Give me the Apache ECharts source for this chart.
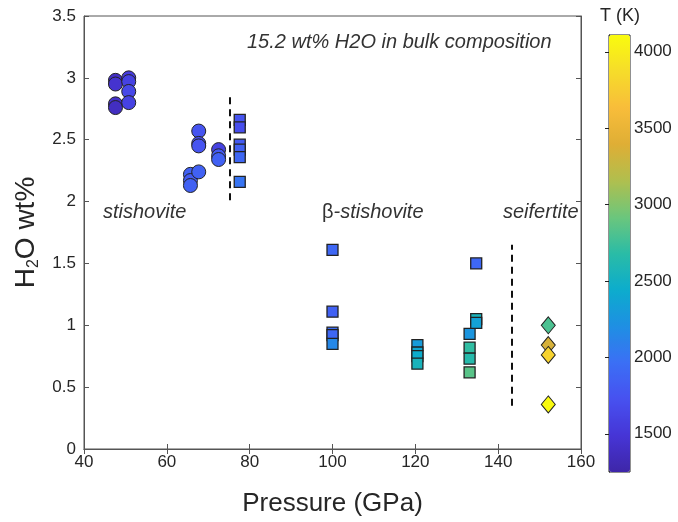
<!DOCTYPE html>
<html>
<head>
<meta charset="utf-8">
<script src="https://cdn.jsdelivr.net/npm/echarts@6/dist/echarts.min.js"></script>
<style>
  html, body { margin: 0; padding: 0; background: #fff; }
  #chart { width: 678px; height: 522px; }
</style>
</head>
<body>
<div id="chart"></div>
<script>
// stishovite (circles): pressure GPa, H2O wt%, T K
const stishP = [47.6, 47.6, 47.6, 47.6, 50.8, 50.8, 50.8, 50.8, 65.7, 65.7, 65.7, 67.7, 67.7, 67.7, 67.7, 72.5, 72.5, 72.5]
const stishH2O = [2.98, 2.95, 2.79, 2.76, 3.00, 2.97, 2.89, 2.80, 2.22, 2.17, 2.13, 2.24, 2.57, 2.47, 2.45, 2.42, 2.37, 2.34]
const stishT = [1400, 1450, 1420, 1380, 1550, 1600, 1650, 1600, 1850, 1800, 1850, 1850, 1750, 1700, 1750, 1600, 1800, 1850]

// beta-stishovite (squares)
const betaP = [77.6, 77.6, 77.6, 77.6, 77.6, 77.6, 100.0, 100.0, 100.0, 100.0, 100.0, 120.5, 120.5, 120.5, 120.5, 133.1, 133.1, 133.1, 133.1, 134.7, 134.7, 134.7]
const betaH2O = [2.66, 2.60, 2.46, 2.42, 2.36, 2.16, 1.61, 1.11, 0.94, 0.92, 0.85, 0.84, 0.78, 0.75, 0.69, 0.93, 0.82, 0.73, 0.62, 1.50, 1.05, 1.02]
const betaT = [1750, 1700, 1800, 1850, 1900, 2000, 1900, 1850, 1950, 1900, 2150, 2300, 2400, 2450, 2550, 2250, 2700, 2650, 2850, 1900, 2550, 2350]

// seifertite (diamonds)
const seifP = [152.1, 152.1, 152.1, 152.1]
const seifH2O = [1.00, 0.84, 0.76, 0.36]
const seifT = [2800, 3350, 3800, 4100]

// phase boundary dashes
const boundary1 = [[75.3, 2.01], [75.3, 2.87]]
const boundary2 = [[143.4, 0.35], [143.4, 1.65]]

const xTicks = { min: 40, max: 160, interval: 20 }
const yTicks = { min: 0, max: 3.5, interval: 0.5 }
const tRange = [1250, 4110]
const tTicks = [1500, 2000, 2500, 3000, 3500, 4000]

const parula = ['#3e26a8', '#4635d6', '#4751f0', '#3b6ff5', '#1f8fe3', '#0caccd', '#2abca6', '#6cc67c', '#b0bf4e', '#dfae35', '#f8bd3a', '#f6dc2a', '#f9fb0e']

const font = 'Liberation Sans, Arial, Helvetica, sans-serif'
const axisColor = '#555'
const textColor = '#262626'

function zip(p, h, t) {
  return p.map((v, i) => [v, h[i], t[i]])
}

const chart = echarts.init(document.getElementById('chart'))

chart.setOption({
  animation: false,
  textStyle: { fontFamily: font },
  grid: [
    { left: 84, right: 97, top: 16, bottom: 71, show: true, borderColor: axisColor, borderWidth: 1 },
    { left: 609, width: 21, top: 35, height: 437, show: true, borderColor: '#222', borderWidth: 1 }
  ],
  xAxis: [
    {
      gridIndex: 0, type: 'value', ...xTicks,
      name: 'Pressure (GPa)', nameLocation: 'middle', nameGap: 42,
      nameTextStyle: { fontSize: 26, color: textColor, fontFamily: font },
      axisLine: { lineStyle: { color: axisColor } },
      axisTick: { inside: true, length: 5, lineStyle: { color: axisColor } },
      axisLabel: { fontSize: 17, color: textColor, margin: 5, fontFamily: font },
      splitLine: { show: false }
    },
    {
      gridIndex: 0, type: 'value', position: 'top', ...xTicks,
      axisLine: { lineStyle: { color: axisColor } },
      axisTick: { inside: true, length: 5, lineStyle: { color: axisColor } },
      axisLabel: { show: false },
      splitLine: { show: false }
    },
    { gridIndex: 1, type: 'value', min: 0, max: 1, show: false }
  ],
  yAxis: [
    {
      gridIndex: 0, type: 'value', ...yTicks,
      name: '{a|H}{s|2}{a|O wt%}', nameLocation: 'middle', nameGap: 42, nameRotate: 90,
      nameTextStyle: {
        rich: {
          a: { fontSize: 28, color: textColor, fontFamily: font },
          s: { fontSize: 16, color: textColor, fontFamily: font, verticalAlign: 'bottom', padding: [14, 0, 0, 0] }
        }
      },
      axisLine: { lineStyle: { color: axisColor } },
      axisTick: { inside: true, length: 5, lineStyle: { color: axisColor } },
      axisLabel: { fontSize: 17, color: textColor, margin: 8, fontFamily: font },
      splitLine: { show: false }
    },
    {
      gridIndex: 0, type: 'value', position: 'right', ...yTicks,
      axisLine: { lineStyle: { color: axisColor } },
      axisTick: { inside: true, length: 5, lineStyle: { color: axisColor } },
      axisLabel: { show: false },
      splitLine: { show: false }
    },
    {
      gridIndex: 1, type: 'value', position: 'right', min: tRange[0], max: tRange[1],
      axisLine: { show: true, lineStyle: { color: '#222' } },
      axisTick: { show: true, inside: true, length: 4, customValues: tTicks, lineStyle: { color: '#222' } },
      axisLabel: { fontSize: 17, color: textColor, margin: 4, customValues: tTicks, fontFamily: font, formatter: v => String(v) },
      splitLine: { show: false }
    }
  ],
  visualMap: {
    type: 'continuous',
    min: tRange[0], max: tRange[1],
    dimension: 2,
    seriesIndex: [0, 1, 2],
    left: 609, top: 35,
    itemWidth: 21, itemHeight: 437,
    padding: 0,
    calculable: false,
    hoverLink: false,
    inRange: { color: parula }
  },
  graphic: [
    {
      type: 'text', left: 600, top: 7,
      style: { text: 'T (K)', font: '18px ' + font, fill: textColor }
    },
    {
      type: 'text', left: 247, top: 32,
      style: { text: '15.2 wt% H2O in bulk composition', font: 'italic 20px ' + font, fill: '#333' }
    },
    {
      type: 'text', left: 103, top: 202,
      style: { text: 'stishovite', font: 'italic 20px ' + font, fill: '#333' }
    },
    {
      type: 'text', left: 322, top: 202,
      style: {
        text: '{n|β}{i|-stishovite}',
        rich: {
          n: { font: '20px ' + font, fill: '#333' },
          i: { font: 'italic 20px ' + font, fill: '#333' }
        }
      }
    },
    {
      type: 'text', left: 503, top: 202,
      style: { text: 'seifertite', font: 'italic 20px ' + font, fill: '#333' }
    }
  ],
  series: [
    {
      name: 'stishovite', type: 'scatter', xAxisIndex: 0, yAxisIndex: 0,
      symbol: 'circle', symbolSize: 14,
      itemStyle: { borderColor: '#222', borderWidth: 1, opacity: 1 },
      data: zip(stishP, stishH2O, stishT),
      markLine: {
        silent: true, symbol: 'none', label: { show: false },
        lineStyle: { color: '#111', width: 2, type: [7, 5] },
        data: [
          [{ coord: boundary1[0] }, { coord: boundary1[1] }],
          [{ coord: boundary2[0] }, { coord: boundary2[1] }]
        ]
      }
    },
    {
      name: 'beta-stishovite', type: 'scatter', xAxisIndex: 0, yAxisIndex: 0,
      symbol: 'rect', symbolSize: 11,
      itemStyle: { borderColor: '#222', borderWidth: 1.3, opacity: 1 },
      data: zip(betaP, betaH2O, betaT)
    },
    {
      name: 'seifertite', type: 'scatter', xAxisIndex: 0, yAxisIndex: 0,
      symbol: 'diamond', symbolSize: [14, 17],
      itemStyle: { borderColor: '#222', borderWidth: 1, opacity: 1 },
      data: zip(seifP, seifH2O, seifT)
    }
  ]
})
</script>
</body>
</html>
